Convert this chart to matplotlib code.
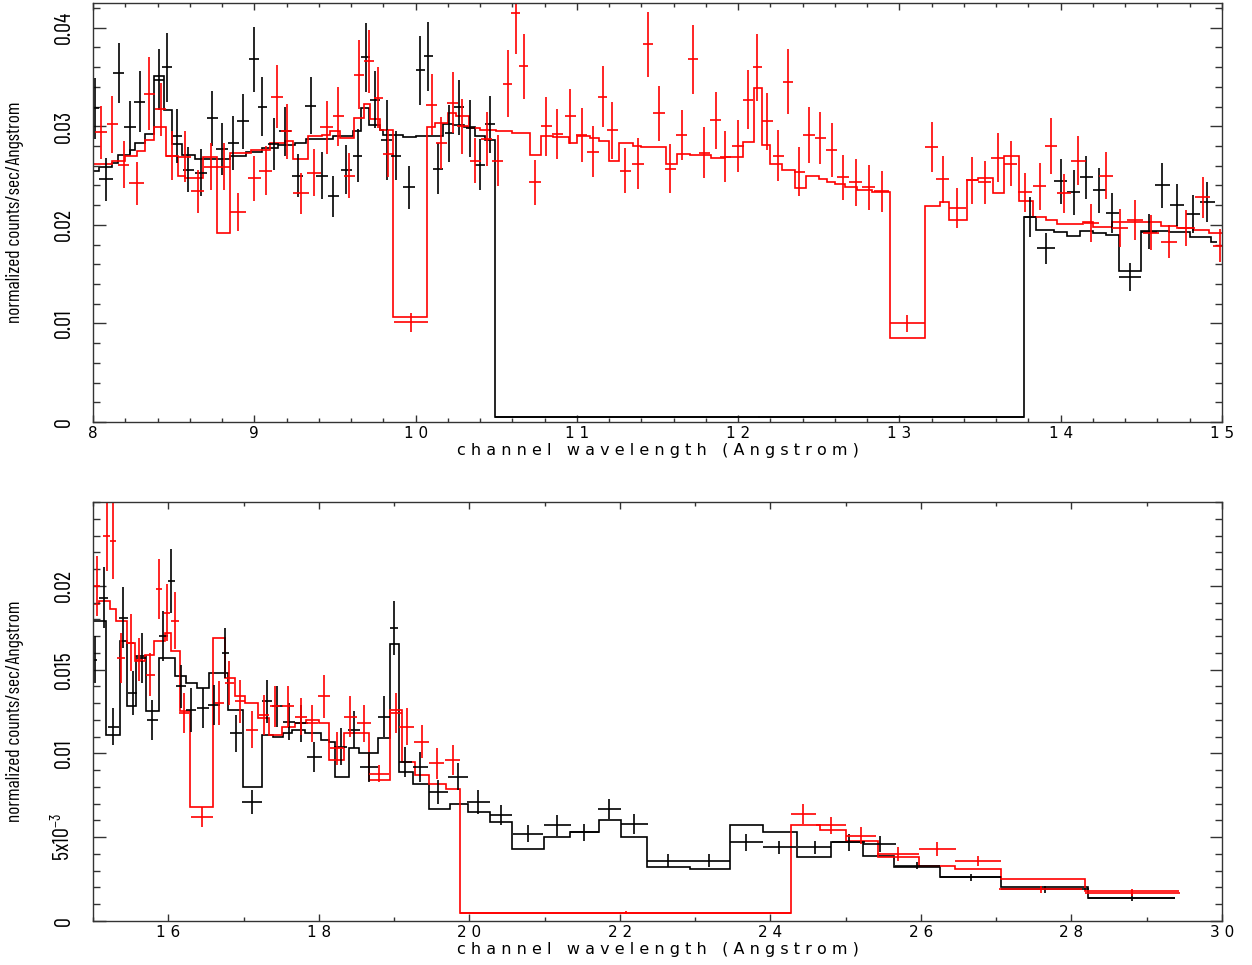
import numpy as np
import matplotlib
matplotlib.use("Agg")
import matplotlib.pyplot as plt
from matplotlib.ticker import MultipleLocator, FixedLocator, FixedFormatter, FuncFormatter

# ---------------- top panel (8-15 A) ----------------
# black data: centre, value, error, half bin width
top_blk_x = [8.015, 8.08, 8.16, 8.23, 8.29, 8.41, 8.46, 8.52, 8.59, 8.67, 8.74, 8.80, 8.87, 8.93,
             9.00, 9.05, 9.12, 9.19, 9.27, 9.35, 9.42, 9.49, 9.57, 9.64, 9.69, 9.75, 9.82, 9.88,
             9.96, 10.03, 10.08, 10.14, 10.21, 10.27, 10.34, 10.40, 10.46, 12.13,
             13.81, 13.91, 14.00, 14.08, 14.16, 14.24, 14.32, 14.43, 14.55, 14.63, 14.72, 14.82, 14.91]
top_blk_y = [0.0318, 0.0246, 0.0354, 0.0299, 0.0325, 0.0347, 0.0360, 0.0290, 0.0256, 0.0253, 0.0308,
             0.0277, 0.0283, 0.0305, 0.0368, 0.0320, 0.0282, 0.0295, 0.0250, 0.0321, 0.0250, 0.0229,
             0.0256, 0.0270, 0.0370, 0.0327, 0.0286, 0.0270, 0.0238, 0.0357, 0.0371, 0.0257, 0.0293,
             0.0319, 0.0298, 0.0261, 0.0302, 0.0005,
             0.0208, 0.0176, 0.0244, 0.0233, 0.0248, 0.0235, 0.0212, 0.0147, 0.0193, 0.0240, 0.0220,
             0.0211, 0.0223]
top_blk_err = [0.0031, 0.0022, 0.0030, 0.0027, 0.0031, 0.0031, 0.0035, 0.0027, 0.0023, 0.0024, 0.0028,
               0.0026, 0.0027, 0.0028, 0.0033, 0.0030, 0.0026, 0.0025, 0.0022, 0.0029, 0.0024, 0.0021,
               0.0025, 0.0027, 0.0035, 0.0029, 0.0041, 0.0025, 0.0022, 0.0035, 0.0035, 0.0026, 0.0029,
               0.0028, 0.0029, 0.0026, 0.0029, 0.0001,
               0.0020, 0.0016, 0.0023, 0.0023, 0.0022, 0.0023, 0.0020, 0.0014, 0.0018, 0.0023, 0.0021,
               0.0019, 0.0020]
top_blk_w = [0.02, 0.045, 0.035, 0.035, 0.035, 0.03, 0.03, 0.03, 0.035, 0.035, 0.035, 0.035, 0.035, 0.035,
             0.03, 0.03, 0.035, 0.035, 0.035, 0.035, 0.035, 0.035, 0.035, 0.03, 0.03, 0.03, 0.035, 0.03,
             0.035, 0.03, 0.03, 0.03, 0.03, 0.03, 0.03, 0.03, 0.03, 1.64,
             0.04, 0.055, 0.04, 0.04, 0.04, 0.04, 0.04, 0.07, 0.05, 0.045, 0.045, 0.045, 0.045]

top_red_x = [8.05, 8.12, 8.19, 8.27, 8.35, 8.42, 8.49, 8.57, 8.65, 8.73, 8.81, 8.90, 9.00, 9.07, 9.14,
             9.20, 9.29, 9.37, 9.45, 9.52, 9.59, 9.65, 9.71, 9.77, 9.83, 9.97,
             10.10, 10.16, 10.23, 10.29, 10.37, 10.44, 10.51, 10.57, 10.62, 10.67, 10.74, 10.81, 10.88,
             10.96, 11.03, 11.10, 11.16, 11.22, 11.30, 11.38, 11.44, 11.51, 11.58, 11.65, 11.72, 11.79,
             11.86, 11.92, 12.00, 12.06, 12.12, 12.18, 12.25, 12.31, 12.38, 12.44, 12.51, 12.58, 12.65,
             12.73, 12.81, 12.89, 13.05, 13.20, 13.27, 13.36, 13.45, 13.53, 13.61, 13.69, 13.78, 13.87,
             13.94, 14.02, 14.11, 14.19, 14.28, 14.37, 14.46, 14.56, 14.67, 14.78, 14.88, 14.99]
top_red_y = [0.0294, 0.0302, 0.0261, 0.0242, 0.0333, 0.0317, 0.0270, 0.0269, 0.0234, 0.0259, 0.0259,
             0.0213, 0.0247, 0.0255, 0.0330, 0.0295, 0.0232, 0.0253, 0.0299, 0.0310, 0.0250, 0.0352,
             0.0366, 0.0329, 0.0272, 0.0101,
             0.0322, 0.0283, 0.0324, 0.0300, 0.0265, 0.0287, 0.0265, 0.0343, 0.0415, 0.0361, 0.0243,
             0.0300, 0.0292, 0.0310, 0.0291, 0.0274, 0.0330, 0.0296, 0.0255, 0.0262, 0.0383, 0.0313,
             0.0257, 0.0291, 0.0368, 0.0273, 0.0306, 0.0269, 0.0280, 0.0327, 0.0360, 0.0305, 0.0270,
             0.0345, 0.0254, 0.0291, 0.0288, 0.0276, 0.0248, 0.0243, 0.0238, 0.0234, 0.0100, 0.0279,
             0.0246, 0.0217, 0.0245, 0.0243, 0.0268, 0.0262, 0.0233, 0.0239, 0.0280, 0.0232, 0.0265,
             0.0202, 0.0250, 0.0197, 0.0205, 0.0192, 0.0183, 0.0197, 0.0228, 0.0179]
top_red_err = [0.0027, 0.0029, 0.0024, 0.0022, 0.0037, 0.0027, 0.0025, 0.0026, 0.0022, 0.0024, 0.0024,
               0.0019, 0.0023, 0.0025, 0.0032, 0.0028, 0.0021, 0.0024, 0.0027, 0.0030, 0.0023, 0.0035,
               0.0032, 0.0031, 0.0024, 0.0010,
               0.0031, 0.0026, 0.0031, 0.0028, 0.0023, 0.0027, 0.0026, 0.0034, 0.0042, 0.0033, 0.0023,
               0.0030, 0.0025, 0.0028, 0.0027, 0.0026, 0.0031, 0.0029, 0.0023, 0.0026, 0.0033, 0.0028,
               0.0025, 0.0025, 0.0035, 0.0026, 0.0029, 0.0026, 0.0026, 0.0030, 0.0034, 0.0029, 0.0026,
               0.0033, 0.0025, 0.0028, 0.0026, 0.0027, 0.0023, 0.0024, 0.0023, 0.0021, 0.0009, 0.0025,
               0.0024, 0.0020, 0.0024, 0.0022, 0.0025, 0.0023, 0.0020, 0.0024, 0.0028, 0.0020, 0.0025,
               0.0019, 0.0024, 0.0019, 0.0020, 0.0018, 0.0017, 0.0018, 0.0021, 0.0017]
top_red_w = [0.035, 0.035, 0.035, 0.045, 0.035, 0.035, 0.035, 0.04, 0.04, 0.04, 0.04, 0.05, 0.04, 0.04,
             0.035, 0.035, 0.05, 0.045, 0.04, 0.035, 0.035, 0.03, 0.03, 0.03, 0.035, 0.105,
             0.035, 0.035, 0.035, 0.035, 0.035, 0.035, 0.035, 0.03, 0.03, 0.03, 0.035, 0.035, 0.035,
             0.035, 0.035, 0.035, 0.03, 0.035, 0.035, 0.035, 0.03, 0.035, 0.035, 0.035, 0.03, 0.035,
             0.035, 0.035, 0.035, 0.03, 0.03, 0.035, 0.035, 0.03, 0.035, 0.035, 0.035, 0.035, 0.04,
             0.04, 0.04, 0.045, 0.11, 0.04, 0.04, 0.05, 0.04, 0.04, 0.04, 0.04, 0.045, 0.04,
             0.04, 0.045, 0.045, 0.045, 0.045, 0.05, 0.05, 0.05, 0.05, 0.05, 0.045, 0.045]

# folded model, black and red
top_blk_edges = [8.0, 8.04, 8.12, 8.155, 8.23, 8.26, 8.32, 8.38, 8.44, 8.49, 8.55, 8.63, 8.85, 8.95,
                 9.05, 9.15, 9.25, 9.32, 9.4, 9.49, 9.61, 9.66, 9.71, 9.78, 9.8, 9.92, 10.0, 10.17,
                 10.23, 10.3, 10.37, 10.43, 10.494, 13.77, 13.85, 13.96, 14.04, 14.12, 14.2, 14.28,
                 14.36, 14.5, 14.67, 14.8, 14.93, 14.97]
top_blk_model = [0.0255, 0.0259, 0.0263, 0.0271, 0.0276, 0.0283, 0.0292, 0.0351, 0.0316, 0.0282,
                 0.0271, 0.0267, 0.0270, 0.0274, 0.0278, 0.0281, 0.0283, 0.0287, 0.0287, 0.0290,
                 0.0295, 0.0318, 0.0301, 0.0296, 0.0291, 0.0289, 0.0290, 0.0302, 0.0301, 0.0299,
                 0.0290, 0.0286, 0.0005, 0.0208, 0.0195, 0.0193, 0.0189, 0.0194, 0.0192, 0.0190,
                 0.0153, 0.0194, 0.0193, 0.0188, 0.0183]
top_red_edges = [8.0, 8.12, 8.2, 8.27, 8.32, 8.38, 8.45, 8.53, 8.57, 8.68, 8.77, 8.85, 8.98, 9.1,
                 9.19, 9.24, 9.33, 9.42, 9.47, 9.53, 9.62, 9.68, 9.72, 9.78, 9.86, 10.07, 10.12,
                 10.2, 10.25, 10.33, 10.4, 10.5, 10.6, 10.71, 10.78, 10.85, 10.95, 11.0, 11.08,
                 11.14, 11.2, 11.26, 11.35, 11.4, 11.55, 11.62, 11.7, 11.83, 11.92, 12.03, 12.1,
                 12.15, 12.2, 12.27, 12.35, 12.42, 12.5, 12.55, 12.6, 12.66, 12.74, 12.83, 12.94,
                 13.16, 13.25, 13.31, 13.42, 13.49, 13.58, 13.65, 13.74, 13.83, 13.91, 13.98, 14.14,
                 14.2, 14.32, 14.49, 14.62, 14.72, 14.82, 14.92, 15.0]
top_red_model = [0.0262, 0.0265, 0.0270, 0.0275, 0.0286, 0.0299, 0.0270, 0.0250, 0.0247, 0.0269,
                 0.0192, 0.0273, 0.0276, 0.0283, 0.0285, 0.0267, 0.0290, 0.0291, 0.0295, 0.0288,
                 0.0308, 0.0323, 0.0307, 0.0296, 0.0107, 0.0299, 0.0303, 0.0313, 0.0310, 0.0298,
                 0.0296, 0.0295, 0.0293, 0.0271, 0.0290, 0.0289, 0.0283, 0.0290, 0.0288, 0.0285,
                 0.0265, 0.0283, 0.0280, 0.0279, 0.0262, 0.0272, 0.0271, 0.0268, 0.0269, 0.0284,
                 0.0339, 0.0281, 0.0262, 0.0256, 0.0237, 0.0250, 0.0246, 0.0243, 0.0241, 0.0238,
                 0.0235, 0.0233, 0.0085, 0.0219, 0.0223, 0.0205, 0.0245, 0.0247, 0.0232, 0.0270,
                 0.0224, 0.0208, 0.0205, 0.0201, 0.0203, 0.0198, 0.0203, 0.0203, 0.0199, 0.0197,
                 0.0195, 0.0192]

# ---------------- bottom panel (15-30 A) ----------------
bot_blk_x = [15.02, 15.14, 15.27, 15.40, 15.53, 15.65, 15.79, 15.93, 16.04, 16.17, 16.30, 16.46, 16.61,
             16.76, 16.90, 17.11, 17.31, 17.45, 17.61, 17.77, 17.94, 18.29, 18.47, 18.67, 18.86, 19.00,
             19.15, 19.35, 19.59, 19.85, 20.12, 20.42, 20.78, 21.17, 21.53, 21.86, 22.19, 22.64, 23.19,
             23.68, 24.12, 24.59, 25.04, 25.45, 25.95, 26.66, 27.65, 28.80]
bot_blk_y = [0.0156, 0.0193, 0.0116, 0.0181, 0.0136, 0.0157, 0.0120, 0.0170, 0.0203, 0.0140, 0.0126,
             0.0127, 0.0129, 0.0160, 0.0112, 0.0071, 0.0131, 0.0128, 0.0119, 0.0118, 0.0098, 0.0104,
             0.0114, 0.0092, 0.0122, 0.0175, 0.0095, 0.0092, 0.0077, 0.0086, 0.0071, 0.0063, 0.0052,
             0.0057, 0.0053, 0.0067, 0.0058, 0.0036, 0.0036, 0.0047, 0.0044, 0.0044, 0.0047, 0.0046,
             0.0033, 0.0026, 0.0019, 0.0014]
bot_blk_err = [0.0014, 0.0018, 0.0011, 0.0018, 0.0013, 0.0015, 0.0012, 0.0015, 0.0019, 0.0013, 0.0013,
               0.0012, 0.0012, 0.0015, 0.0011, 0.0007, 0.0013, 0.0012, 0.0011, 0.0011, 0.0009, 0.0011,
               0.0011, 0.0009, 0.0012, 0.0016, 0.0009, 0.0009, 0.0007, 0.0008, 0.0007, 0.0006, 0.0005,
               0.0006, 0.0005, 0.0006, 0.0006, 0.0004, 0.0004, 0.0005, 0.0004, 0.0004, 0.0005, 0.0005,
               0.0002, 0.0002, 0.0002, 0.0002]
bot_blk_w = [0.03, 0.06, 0.07, 0.06, 0.06, 0.06, 0.07, 0.06, 0.05, 0.07, 0.07, 0.08, 0.08, 0.05, 0.08,
             0.13, 0.07, 0.07, 0.08, 0.08, 0.1, 0.09, 0.08, 0.12, 0.08, 0.05, 0.09, 0.1, 0.13, 0.13,
             0.15, 0.15, 0.2, 0.18, 0.19, 0.15, 0.18, 0.28, 0.27, 0.22, 0.22, 0.22, 0.22, 0.22, 0.3,
             0.4, 0.58, 0.58]

bot_red_x = [15.05, 15.18, 15.26, 15.37, 15.50, 15.61, 15.76, 15.88, 15.98, 16.09, 16.21, 16.45, 16.68,
             16.81, 16.95, 17.11, 17.27, 17.42, 17.59, 17.76, 17.91, 18.07, 18.24, 18.42, 18.60, 18.80,
             19.02, 19.17, 19.37, 19.57, 19.78, 22.08, 24.44, 24.81, 25.21, 25.70, 26.22, 26.76, 27.59,
             28.81]
bot_red_y = [0.0200, 0.0230, 0.0227, 0.0157, 0.0166, 0.0156, 0.0147, 0.0198, 0.0184, 0.0179, 0.0124,
             0.0062, 0.0130, 0.0142, 0.0131, 0.0114, 0.0123, 0.0128, 0.0128, 0.0122, 0.0118, 0.0134,
             0.0103, 0.0122, 0.0118, 0.0088, 0.0124, 0.0116, 0.0107, 0.0094, 0.0096, 0.0005, 0.0064,
             0.0057, 0.0051, 0.0040, 0.0043, 0.0036, 0.0019, 0.0017]
bot_red_err = [0.0018, 0.0021, 0.0023, 0.0015, 0.0017, 0.0013, 0.0013, 0.0018, 0.0017, 0.0017, 0.0012,
               0.0006, 0.0013, 0.0013, 0.0013, 0.0011, 0.0012, 0.0012, 0.0012, 0.0011, 0.0011, 0.0013,
               0.0010, 0.0012, 0.0011, 0.0005, 0.0012, 0.0011, 0.0010, 0.0009, 0.0009, 0.0001, 0.0006,
               0.0005, 0.0005, 0.0004, 0.0004, 0.0003, 0.0002, 0.0002]
bot_red_w = [0.04, 0.05, 0.04, 0.05, 0.05, 0.05, 0.06, 0.04, 0.04, 0.05, 0.07, 0.15, 0.06, 0.06, 0.07,
             0.08, 0.07, 0.07, 0.08, 0.08, 0.08, 0.08, 0.09, 0.09, 0.09, 0.13, 0.08, 0.1, 0.1, 0.1,
             0.1, 2.2, 0.17, 0.2, 0.2, 0.28, 0.24, 0.31, 0.55, 0.63]

bot_blk_edges = [15.0, 15.17, 15.36, 15.45, 15.57, 15.70, 15.87, 16.09, 16.24, 16.38, 16.54, 16.80,
                 16.99, 17.25, 17.39, 17.53, 17.65, 17.82, 18.03, 18.14, 18.22, 18.40, 18.54, 18.67,
                 18.78, 18.94, 19.06, 19.25, 19.46, 19.74, 19.98, 20.28, 20.57, 20.99, 21.34, 21.72,
                 22.01, 22.36, 22.93, 23.46, 23.90, 24.35, 24.81, 25.23, 25.64, 26.25, 27.06, 28.22,
                 29.37]
bot_blk_model = [0.0179, 0.0111, 0.0167, 0.0128, 0.0158, 0.0125, 0.0157, 0.0146, 0.0142, 0.0139,
                 0.0148, 0.0126, 0.0080, 0.0111, 0.0110, 0.0112, 0.0114, 0.0112, 0.0108, 0.0107,
                 0.0086, 0.0103, 0.0100, 0.0100, 0.0109, 0.0165, 0.0089, 0.0082, 0.0067, 0.0070,
                 0.0065, 0.0059, 0.0043, 0.0050, 0.0053, 0.0060, 0.0050, 0.0032, 0.0031, 0.0057,
                 0.0053, 0.0038, 0.0047, 0.0039, 0.0032, 0.0026, 0.0020, 0.0014]
bot_red_edges = [15.0, 15.08, 15.22, 15.30, 15.45, 15.56, 15.69, 15.81, 15.96, 16.04, 16.15, 16.29,
                 16.60, 16.75, 16.88, 17.02, 17.19, 17.34, 17.51, 17.68, 17.83, 18.0, 18.14, 18.33,
                 18.49, 18.67, 18.94, 19.11, 19.28, 19.46, 19.69, 19.88, 24.28, 24.66, 25.01, 25.43,
                 25.98, 26.45, 27.06, 28.18, 29.43]
bot_red_model = [0.0189, 0.0191, 0.0186, 0.0179, 0.0166, 0.0155, 0.0159, 0.0167, 0.0172, 0.0161,
                 0.0125, 0.0068, 0.0169, 0.0145, 0.0134, 0.0130, 0.0121, 0.0111, 0.0116, 0.0118,
                 0.0120, 0.0118, 0.0096, 0.0112, 0.0112, 0.0084, 0.0126, 0.0095, 0.0087, 0.0082,
                 0.0079, 0.0005, 0.0057, 0.0054, 0.0048, 0.0038, 0.0033, 0.0031, 0.0025, 0.0018]

NARROW = ['Barlow Condensed', 'DejaVu Sans']
plt.rcParams['mathtext.fontset'] = 'custom'
plt.rcParams['mathtext.rm'] = 'Barlow Condensed'
plt.rcParams['mathtext.it'] = 'Barlow Condensed'

YLABEL = 'normalized counts/sec/Angstrom'
XLABEL = '   '.join(' '.join(w) for w in 'channel wavelength (Angstrom)'.split())


def spaced(v, pos):
    # spread the digits like the PGPLOT font
    return ' '.join('%g' % v)


def draw_panel(ax, series, xlim, ylim, xmajor, xminor, yticks, ylabels, yminor):
    for x, y, err, w, edges, model, col in series:
        ax.stairs(model, edges, baseline=None, color=col, lw=1.2)
        ax.errorbar(x, y, yerr=err, xerr=w, fmt='none', ecolor=col, elinewidth=1.2, capsize=0)

    ax.set_xlim(*xlim)
    ax.set_ylim(*ylim)
    ax.xaxis.set_major_locator(MultipleLocator(xmajor))
    ax.xaxis.set_minor_locator(MultipleLocator(xminor))
    ax.xaxis.set_major_formatter(FuncFormatter(spaced))
    ax.yaxis.set_major_locator(FixedLocator(yticks))
    ax.yaxis.set_major_formatter(FixedFormatter(ylabels))
    ax.yaxis.set_minor_locator(MultipleLocator(yminor))

    ax.tick_params(which='both', direction='in', top=True, right=True, color='#333333', width=1.0)
    ax.tick_params(axis='x', which='major', length=5, labelsize=11, pad=3)
    ax.tick_params(axis='x', which='minor', length=3)
    ax.tick_params(axis='y', which='major', length=9, pad=13)
    ax.tick_params(axis='y', which='minor', length=5)
    for lab in ax.get_yticklabels():
        lab.set_rotation(90)
        lab.set_va('center')
        lab.set_family(NARROW)
        lab.set_fontsize(16)
    for sp in ax.spines.values():
        sp.set_linewidth(1.0)
        sp.set_color('#333333')

    ax.set_xlabel(XLABEL, fontsize=11.5, labelpad=1)
    ax.set_ylabel(YLABEL, family=NARROW, fontsize=14)
    ax.yaxis.set_label_coords(-0.061, 0.5)


fig = plt.figure(figsize=(12.52, 9.65), dpi=100)
ax1 = fig.add_axes([0.0743, 0.5627, 0.9017, 0.4342])
ax2 = fig.add_axes([0.0743, 0.0456, 0.9017, 0.4342])

draw_panel(ax1,
           [(top_blk_x, top_blk_y, top_blk_err, top_blk_w, top_blk_edges, top_blk_model, 'black'),
            (top_red_x, top_red_y, top_red_err, top_red_w, top_red_edges, top_red_model, 'red')],
           (8, 15), (0, 0.0425), 1, 0.2,
           [0, 0.01, 0.02, 0.03, 0.04], ['0', '0.01', '0.02', '0.03', '0.04'], 0.002)

draw_panel(ax2,
           [(bot_blk_x, bot_blk_y, bot_blk_err, bot_blk_w, bot_blk_edges, bot_blk_model, 'black'),
            (bot_red_x, bot_red_y, bot_red_err, bot_red_w, bot_red_edges, bot_red_model, 'red')],
           (15, 30), (0, 0.025), 2, 1,
           [0, 0.005, 0.01, 0.015, 0.02], ['0', r'5x10$^{-3}$', '0.01', '0.015', '0.02'], 0.001)

plt.savefig('out.png', dpi=100)
